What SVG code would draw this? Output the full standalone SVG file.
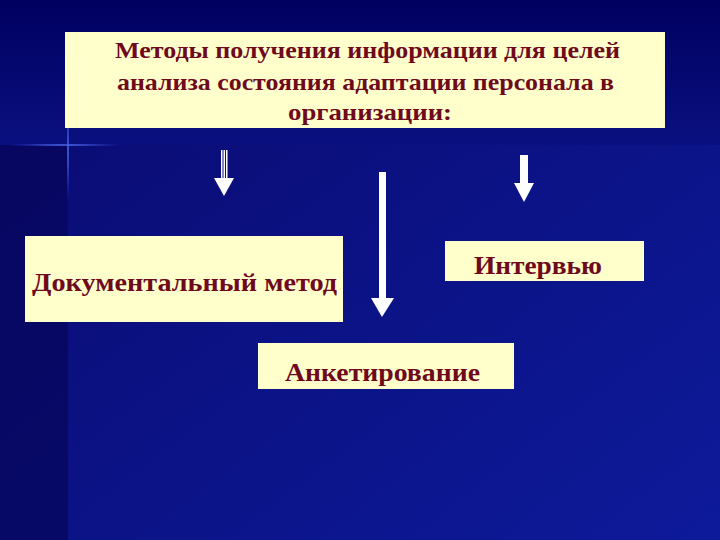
<svg xmlns="http://www.w3.org/2000/svg" width="720" height="540" viewBox="0 0 720 540">
<defs>
<linearGradient id="bg" x1="0" y1="0" x2="1" y2="1">
<stop offset="0" stop-color="#0a0a6e"/><stop offset="1" stop-color="#0d1a9a"/>
</linearGradient>
<linearGradient id="top" x1="0" y1="0" x2="0" y2="1">
<stop offset="0" stop-color="#000060"/><stop offset="1" stop-color="#0a1080"/>
</linearGradient>
<radialGradient id="flare"><stop offset="0" stop-color="#fff"/><stop offset="0.3" stop-color="#6080ff"/><stop offset="1" stop-color="#2030c0" stop-opacity="0"/></radialGradient>
</defs>
<style>
.box{fill:#ffffcc}
.t{font-family:"Liberation Serif",serif;font-weight:bold;fill:#6e0a1c}
.arr{fill:#ffffff}
</style>
<rect width="720" height="540" fill="url(#bg)"/>
<rect width="720" height="145" fill="url(#top)"/>
<rect x="0" y="145" width="68" height="395" fill="#06065a" opacity="0.7"/>
<rect x="0" y="144" width="130" height="2" fill="url(#flare)"/>
<rect x="67" y="90" width="2" height="120" fill="url(#flare)"/>
<g id="title"><rect class="box" x="65" y="32" width="600" height="96"/>
<text class="t" font-size="23" x="115" y="58" textLength="505" lengthAdjust="spacingAndGlyphs">Методы получения информации для целей</text>
<text class="t" font-size="23" x="117" y="90" textLength="497" lengthAdjust="spacingAndGlyphs">анализа состояния адаптации персонала в</text>
<text class="t" font-size="23" x="288" y="120" textLength="164" lengthAdjust="spacingAndGlyphs">организации:</text></g>
<g id="doc"><rect class="box" x="25" y="236" width="318" height="86"/>
<text class="t" font-size="25" x="32" y="291" textLength="305" lengthAdjust="spacingAndGlyphs">Документальный метод</text></g>
<g id="interview"><rect class="box" x="445" y="241" width="199" height="40"/>
<text class="t" font-size="25" x="474" y="274" textLength="128" lengthAdjust="spacingAndGlyphs">Интервью</text></g>
<g id="anketa"><rect class="box" x="258" y="343" width="256" height="46"/>
<text class="t" font-size="25" x="285" y="381" textLength="195" lengthAdjust="spacingAndGlyphs">Анкетирование</text></g>
<g id="connectors">
<rect class="arr" x="221" y="150" width="1.5" height="30"/><rect class="arr" x="223.5" y="150" width="1.5" height="30"/><rect class="arr" x="226" y="150" width="1.5" height="30"/>
<polygon class="arr" points="214,178 234,178 224,196"/>
<rect class="arr" x="379" y="172" width="7" height="128"/>
<polygon class="arr" points="371,298 394,298 382,317"/>
<rect class="arr" x="520" y="155" width="8" height="30"/>
<polygon class="arr" points="514,183 534,183 524,202"/>
</g>
</svg>
